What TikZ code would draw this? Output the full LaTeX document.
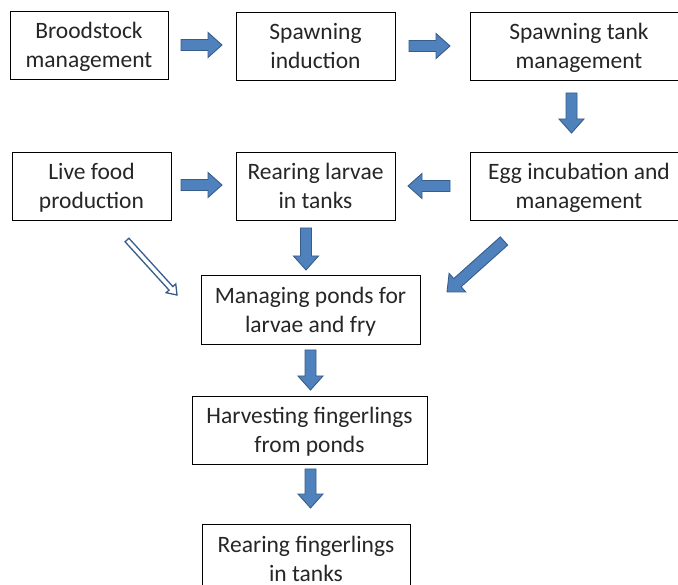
\documentclass[tikz,border=0pt]{standalone}
\usepackage{fontspec}
\setmainfont{Carlito}
\usetikzlibrary{calc}
\definecolor{arrowblue}{HTML}{4F81BD}
\definecolor{arrowedge}{HTML}{385D8A}
\tikzset{
  box/.style={draw=black, line width=0.9pt, fill=white, align=center, inner sep=0pt,
    text height=46pt, text depth=0pt,
    font=\fontsize{23.5}{29}\selectfont, text=black!85},
  blockarrow/.style n args={3}{to path={
    let \p1=(\tikztostart), \p2=(\tikztotarget), \p3=($(\p2)!#3!(\p1)$) in
    ($(\p1)!#1!90:(\p2)$) -- ($(\p3)!#1!90:(\p2)$) -- ($(\p3)!#2!90:(\p2)$) -- (\p2)
    -- ($(\p3)!#2!-90:(\p2)$) -- ($(\p3)!#1!-90:(\p2)$) -- ($(\p1)!#1!-90:(\p2)$) -- cycle}},
  fat/.style={blockarrow={5.5pt}{12.5pt}{14pt}, fill=arrowblue, draw=arrowedge, line width=0.9pt, line join=miter},
  hollow/.style={blockarrow={2.6pt}{6.5pt}{9pt}, fill=white, draw=arrowedge, line width=1.3pt, line join=miter},
}
\begin{document}
\begin{tikzpicture}[x=1pt, y=-1pt]
\useasboundingbox (0,0) rectangle (678,585);
\fill[white] (0,0) rectangle (678,585);
% boxes
\node[box, minimum width=158pt, minimum height=68pt] (b1) at (89,45) {Broodstock\\management};
\node[box, minimum width=159pt, minimum height=68pt] (b2) at (315.5,46) {Spawning\\induction};
\node[box, minimum width=218pt, minimum height=68pt] (b3) at (579,46) {Spawning tank\\management};
\node[box, minimum width=159pt, minimum height=68pt] (b4) at (91.5,186) {Live food\\production};
\node[box, minimum width=159pt, minimum height=68pt] (b5) at (315.5,186) {Rearing larvae\\in tanks};
\node[box, minimum width=218pt, minimum height=68pt] (b6) at (579,186) {Egg incubation and\\management};
\node[box, minimum width=219pt, minimum height=69pt] (b7) at (310.5,309.5) {Managing ponds for\\larvae and fry};
\node[box, minimum width=235pt, minimum height=68pt] (b8) at (309.5,430) {Harvesting fingerlings\\from ponds};
\node[box, minimum width=208pt, minimum height=68pt] (b9) at (306,558) {Rearing fingerlings\\in tanks};
% arrow end points
\coordinate (a1s) at (181,45);   \coordinate (a1e) at (222,45);
\coordinate (a2s) at (409,46);   \coordinate (a2e) at (450,46);
\coordinate (a3s) at (571.5,93); \coordinate (a3e) at (571.5,133);
\coordinate (a4s) at (181,185);  \coordinate (a4e) at (222,185);
\coordinate (a5s) at (450,186);  \coordinate (a5e) at (408,186);
\coordinate (a6s) at (306,228);  \coordinate (a6e) at (306,270);
\coordinate (a7s) at (504,241);  \coordinate (a7e) at (447,292);
\coordinate (a8s) at (127,240);  \coordinate (a8e) at (177,295);
\coordinate (a9s) at (310.5,350); \coordinate (a9e) at (310.5,390);
\coordinate (a10s) at (310.5,469); \coordinate (a10e) at (310.5,508);
% arrows
\draw[fat] (a1s) to (a1e);
\draw[fat] (a2s) to (a2e);
\draw[fat] (a3s) to (a3e);
\draw[fat] (a4s) to (a4e);
\draw[fat] (a5s) to (a5e);
\draw[fat] (a6s) to (a6e);
\draw[fat] (a7s) to (a7e);
\draw[hollow] (a8s) to (a8e);
\draw[fat] (a9s) to (a9e);
\draw[fat] (a10s) to (a10e);
\end{tikzpicture}
\end{document}
